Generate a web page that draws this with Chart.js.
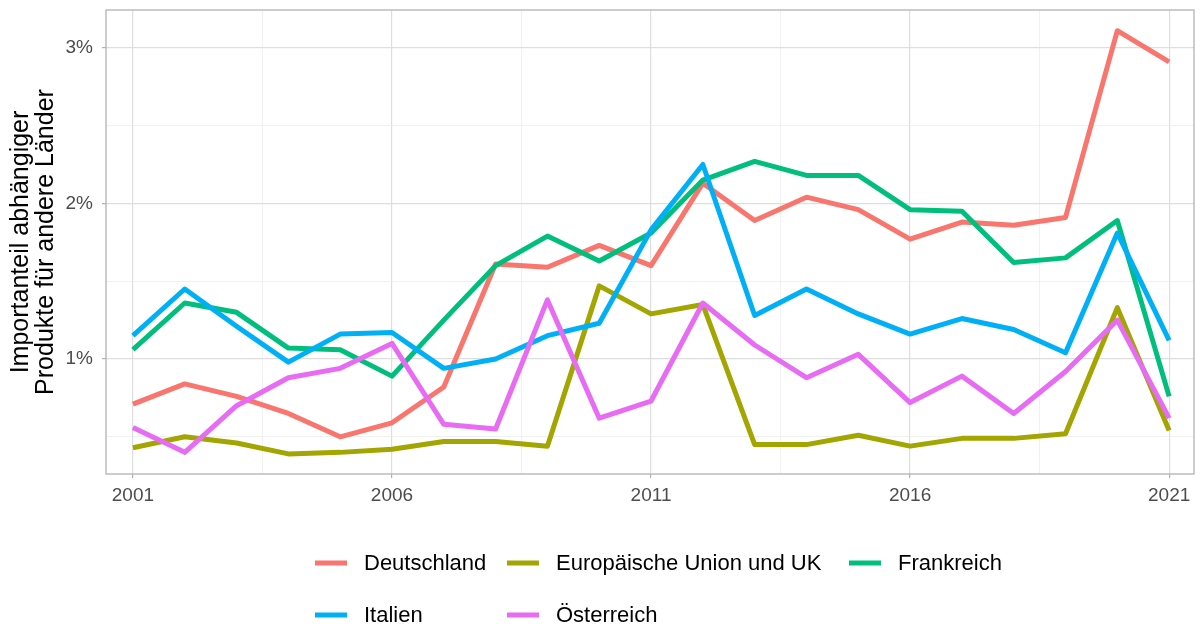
<!DOCTYPE html>
<html>
<head>
<meta charset="utf-8">
<script src="https://cdn.jsdelivr.net/npm/chart.js@4.4.1/dist/chart.umd.min.js"></script>
<style>
  html, body { margin: 0; padding: 0; background: #ffffff; }
  #wrap { width: 1200px; height: 628px; }
</style>
</head>
<body>
<div id="wrap"><canvas id="c" width="1200" height="628"></canvas></div>
<script>
// ---- data ----
const years = [2001, 2002, 2003, 2004, 2005, 2006, 2007, 2008, 2009, 2010, 2011,
               2012, 2013, 2014, 2015, 2016, 2017, 2018, 2019, 2020, 2021];
const seriesNames = ['Deutschland', 'Europäische Union und UK', 'Frankreich', 'Italien', 'Österreich'];
const deutschland = [0.71, 0.84, 0.76, 0.65, 0.50, 0.59, 0.82, 1.61, 1.59, 1.73, 1.60,
                     2.13, 1.89, 2.04, 1.96, 1.77, 1.88, 1.86, 1.91, 3.11, 2.91];
const euUK        = [0.43, 0.50, 0.46, 0.39, 0.40, 0.42, 0.47, 0.47, 0.44, 1.47, 1.29,
                     1.35, 0.45, 0.45, 0.51, 0.44, 0.49, 0.49, 0.52, 1.33, 0.54];
const frankreich  = [1.06, 1.36, 1.30, 1.07, 1.06, 0.89, 1.25, 1.60, 1.79, 1.63, 1.81,
                     2.15, 2.27, 2.18, 2.18, 1.96, 1.95, 1.62, 1.65, 1.89, 0.76];
const italien     = [1.15, 1.45, 1.21, 0.98, 1.16, 1.17, 0.94, 1.00, 1.15, 1.23, 1.83,
                     2.25, 1.28, 1.45, 1.29, 1.16, 1.26, 1.19, 1.04, 1.81, 1.12];
const oesterreich = [0.56, 0.40, 0.70, 0.88, 0.94, 1.10, 0.58, 0.55, 1.38, 0.62, 0.73,
                     1.36, 1.09, 0.88, 1.03, 0.72, 0.89, 0.65, 0.92, 1.25, 0.62];
const xTickValues = [2001, 2003.5, 2006, 2008.5, 2011, 2013.5, 2016, 2018.5, 2021];
const xTickLabels = ['2001', '', '2006', '', '2011', '', '2016', '', '2021'];
const yTickValues = [0.5, 1, 1.5, 2, 2.5, 3];
const yTickLabels = ['', '1%', '', '2%', '', '3%'];
const yTitleLines = ['Importanteil abhängiger', 'Produkte für andere Länder'];

// ---- styles ----
const colors = ['#F8766D', '#A3A500', '#00BF7D', '#00B0F6', '#E76BF3'];
const allSeries = [deutschland, euUK, frankreich, italien, oesterreich];
const FONT = '"Liberation Sans", Arial, sans-serif';

const datasets = allSeries.map((vals, i) => ({
  label: seriesNames[i],
  data: years.map((y, j) => ({ x: y, y: vals[j] })),
  borderColor: colors[i],
  backgroundColor: colors[i],
  borderWidth: 5,
  pointRadius: 0,
  pointHoverRadius: 0,
  tension: 0,
  fill: false,
  borderJoinStyle: 'round',
  borderCapStyle: 'butt',
  order: allSeries.length - i
}));

const isMajor = v => Math.abs(v - Math.round(v)) < 1e-9;

const decorPlugin = {
  id: 'decor',
  afterDraw(chart) {
    const ctx = chart.ctx;
    const a = chart.chartArea;
    ctx.save();
    // panel border
    ctx.strokeStyle = '#B3B3B3';
    ctx.lineWidth = 1.3;
    ctx.strokeRect(a.left, a.top, a.right - a.left, a.bottom - a.top);
    // y axis title
    ctx.fillStyle = '#000000';
    ctx.font = '25px ' + FONT;
    ctx.textAlign = 'center';
    ctx.textBaseline = 'alphabetic';
    const cy = (a.top + a.bottom) / 2;
    const baseX = [28, 53];
    yTitleLines.forEach((t, i) => {
      ctx.save();
      ctx.translate(baseX[i], cy);
      ctx.rotate(-Math.PI / 2);
      ctx.fillText(t, 0, 0);
      ctx.restore();
    });
    // legend
    const colX = [315, 507, 849];
    const rowY = [563, 615];
    ctx.font = '22px ' + FONT;
    ctx.textAlign = 'left';
    ctx.textBaseline = 'middle';
    chart.data.datasets.forEach((ds, i) => {
      const r = Math.floor(i / 3), c = i % 3;
      const x = colX[c], y = rowY[r];
      ctx.strokeStyle = ds.borderColor;
      ctx.lineWidth = 5;
      ctx.lineCap = 'butt';
      ctx.beginPath();
      ctx.moveTo(x, y);
      ctx.lineTo(x + 32, y);
      ctx.stroke();
      ctx.fillStyle = '#000000';
      ctx.fillText(ds.label, x + 49, y + 1);
    });
    ctx.restore();
  }
};

new Chart(document.getElementById('c'), {
  type: 'line',
  data: { datasets },
  plugins: [decorPlugin],
  options: {
    responsive: false,
    animation: false,
    devicePixelRatio: 1,
    layout: { padding: { top: 10, right: 6, left: 0, bottom: 0 } },
    plugins: { legend: { display: false }, tooltip: { enabled: false } },
    scales: {
      x: {
        type: 'linear',
        min: 2000.48,
        max: 2021.48,
        afterBuildTicks: s => { s.ticks = xTickValues.map(v => ({ value: v })); },
        afterFit: s => { s.height = 154; s.paddingLeft = 0; s.paddingRight = 0; },
        border: { display: false },
        grid: {
          color: c => isMajor(c.tick.value) ? '#DEDEDE' : '#EBEBEB',
          lineWidth: c => isMajor(c.tick.value) ? 1.2 : 0.7,
          drawTicks: true,
          tickLength: 4,
          tickWidth: 1.2,
          tickColor: c => isMajor(c.tick.value) ? '#B3B3B3' : 'rgba(0,0,0,0)'
        },
        ticks: {
          autoSkip: false,
          maxRotation: 0,
          padding: 6,
          color: '#4D4D4D',
          font: { family: FONT, size: 19 },
          callback: (v, i) => xTickLabels[i]
        }
      },
      y: {
        type: 'linear',
        min: 0.261,
        max: 3.243,
        afterBuildTicks: s => { s.ticks = yTickValues.map(v => ({ value: v })); },
        afterFit: s => { s.width = 106; s.paddingTop = 0; s.paddingBottom = 0; },
        border: { display: false },
        grid: {
          color: c => isMajor(c.tick.value) ? '#DEDEDE' : '#EBEBEB',
          lineWidth: c => isMajor(c.tick.value) ? 1.2 : 0.7,
          drawTicks: true,
          tickLength: 4,
          tickWidth: 1.2,
          tickColor: c => isMajor(c.tick.value) ? '#B3B3B3' : 'rgba(0,0,0,0)'
        },
        ticks: {
          autoSkip: false,
          padding: 9,
          color: '#4D4D4D',
          font: { family: FONT, size: 19 },
          callback: (v, i) => yTickLabels[i]
        }
      }
    }
  }
});
</script>
</body>
</html>
